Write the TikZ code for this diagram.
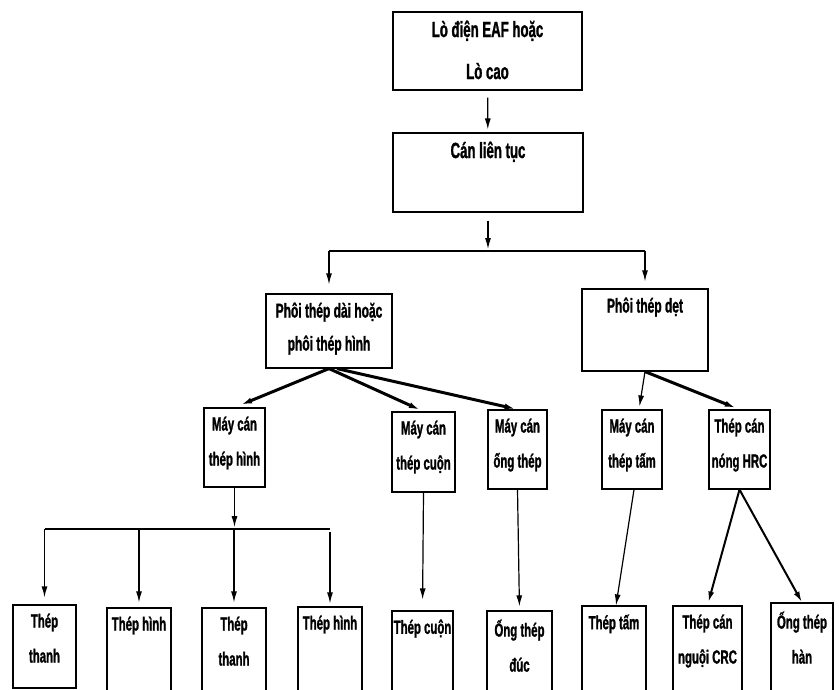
\documentclass[tikz,border=0pt]{standalone}
\usepackage{fontspec}
\setmainfont{Liberation Sans}[FakeStretch=0.6, BoldFeatures={FakeBold=1.2}]
\usetikzlibrary{arrows.meta}

\tikzset{
  box/.style={draw, line width=1.2pt, inner sep=0pt},
  txt/.style={anchor=north, align=center, inner sep=0pt, yshift=-9pt,
    font=\bfseries\fontsize{19}{35}\selectfont},
  midtxt/.style={txt, font=\bfseries\fontsize{20}{33}\selectfont},
  bigtxt/.style={txt, font=\bfseries\fontsize{22}{42}\selectfont},
  arr/.style={-{Latex[length=11pt,width=6pt]}, line width=1.2pt},
  thickarr/.style={arr, line width=3pt},
  midarr/.style={arr, line width=2pt}
}

\begin{document}
\begin{tikzpicture}[x=1pt, y=-1pt]
    \useasboundingbox (0,0) rectangle (839,689);
    \clip (0,0) rectangle (839,689);

    % Top
    \node[box, minimum width=189pt, minimum height=78pt,
      label={[bigtxt]north:Lò điện EAF hoặc\\Lò cao}] (lo) at (487.5,51) {};
    \node[box, minimum width=190pt, minimum height=79pt,
      label={[bigtxt]north:Cán liên tục}] (can) at (488,172.5) {};
    \coordinate (bar) at (488,251);

    \node[box, minimum width=126pt, minimum height=74pt,
      label={[midtxt]north:Phôi thép dài hoặc\\phôi thép hình}] (dai) at (329,331) {};
    \node[box, minimum width=126pt, minimum height=82pt,
      label={[midtxt]north:Phôi thép dẹt}] (det) at (645,330) {};

    % Rolling mills
    \node[box, minimum width=61pt, minimum height=79pt,
      label={[txt]north:Máy cán\\thép hình}] (hinh) at (234.5,447.5) {};
    \node[box, minimum width=63pt, minimum height=80pt,
      label={[txt]north:Máy cán\\thép cuộn}] (cuon) at (423.5,452) {};
    \node[box, minimum width=59pt, minimum height=79pt,
      label={[txt]north:Máy cán\\ống thép}] (ong) at (517.5,449.5) {};
    \node[box, minimum width=60pt, minimum height=79pt,
      label={[txt]north:Máy cán\\thép tấm}] (tam) at (632,449.5) {};
    \node[box, minimum width=61pt, minimum height=79pt,
      label={[txt]north:Thép cán\\nóng HRC}] (hrc) at (739.5,449.5) {};
    \coordinate (bar2) at (234.5,529);

    % Products
    \node[box, minimum width=63pt, minimum height=83pt,
      label={[txt]north:Thép\\thanh}] (tthanh1) at (44.5,646.5) {};
    \node[box, minimum width=64pt, minimum height=100pt,
      label={[txt]north:Thép hình}] (thinh1) at (139,658) {};
    \node[box, minimum width=64pt, minimum height=100pt,
      label={[txt]north:Thép\\thanh}] (tthanh2) at (234,658) {};
    \node[box, minimum width=64pt, minimum height=100pt,
      label={[txt]north:Thép hình}] (thinh2) at (330,657) {};
    \node[box, minimum width=61pt, minimum height=100pt,
      label={[txt]north:Thép cuộn}] (tcuon) at (422.5,661) {};
    \node[box, minimum width=65pt, minimum height=100pt,
      label={[txt]north:Ống thép\\đúc}] (tong) at (519.5,661) {};
    \node[box, minimum width=64pt, minimum height=100pt,
      label={[txt]north:Thép tấm}] (ttam) at (614,656) {};
    \node[box, minimum width=69pt, minimum height=100pt,
      label={[txt]north:Thép cán\\nguội CRC}] (tcrc) at (707.5,656) {};
    \node[box, minimum width=62pt, minimum height=100pt,
      label={[txt]north:Ống thép\\hàn}] (thanh) at (802,653) {};

    % Arrows
    \draw[arr, shorten <=7pt, shorten >=3pt] (lo) -- (can);
    \draw[arr, shorten <=8pt, shorten >=2pt] (can) -- (bar);
    \draw[line width=1.2pt] (dai.north |- bar) -- (det.north |- bar);
    \draw[arr, shorten >=9pt] (dai.north |- bar) -- (dai.north);
    \draw[arr, shorten >=7pt] (det.north |- bar) -- (det.north);

    \draw[thickarr, shorten >=7pt] (dai.south) -- (hinh.north);
    \draw[thickarr, shorten >=4pt] (dai.south) -- (cuon.north);
    \draw[thickarr, shorten >=2pt] ([xshift=8pt]dai.south) -- (ong.north);
    \draw[arr, shorten >=3pt] (det.south) -- ([xshift=7pt]tam.north);
    \draw[thickarr, shorten >=4pt] (det.south) -- (hrc.north);

    \draw[arr, shorten >=2pt] (hinh.south) -- (bar2);
    \draw[line width=1.2pt] (tthanh1.north |- bar2) -- (thinh2.north |- bar2);
    \draw[arr, shorten >=7pt] (tthanh1.north |- bar2) -- (tthanh1.north);
    \draw[arr, shorten >=5pt] (thinh1.north |- bar2) -- (thinh1.north);
    \draw[arr, shorten >=5pt] (tthanh2.north |- bar2) -- (tthanh2.north);
    \draw[arr, shorten <=3pt, shorten >=3pt] (thinh2.north |- bar2) -- (thinh2.north);

    \draw[arr, shorten >=11pt] (cuon.south) -- (tcuon.north);
    \draw[arr, shorten >=4pt] (ong.south) -- (tong.north);
    \draw[arr] ([xshift=2pt]tam.south) -- ([xshift=2pt]ttam.north);
    \draw[midarr, shorten >=3pt] (hrc.south) -- (tcrc.north);
    \draw[midarr] (hrc.south) -- (thanh.north);
\end{tikzpicture}
\end{document}
